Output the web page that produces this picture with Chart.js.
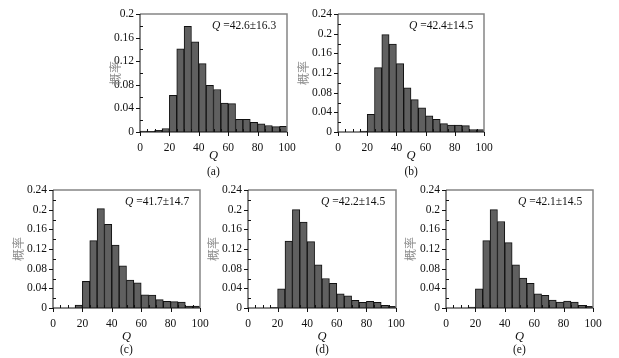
<!DOCTYPE html>
<html>
<head>
<meta charset="utf-8">
<script src="https://cdn.jsdelivr.net/npm/chart.js@4.4.0/dist/chart.umd.min.js"></script>
<style>
    body { margin: 0; background: #fff; }
    #wrap { position: relative; width: 619px; height: 358px; overflow: hidden; font-family: "Liberation Serif", "Times New Roman", serif; }
    #wrap canvas, .txt { position: absolute; }
    .txt { white-space: nowrap; color: #111; font-size: 11.5px; line-height: 1; }
    .ytitle { color: #8a8a8a; font-size: 12px; font-family: "Noto Sans CJK SC", sans-serif; transform: translate(-50%, -50%) rotate(-90deg); }
</style>
</head>
<body>
<div id="wrap"></div>
<script>
// bin centres of the 5-wide histogram bins
var binCenters = [2.5, 7.5, 12.5, 17.5, 22.5, 27.5, 32.5, 37.5, 42.5, 47.5,
                  52.5, 57.5, 62.5, 67.5, 72.5, 77.5, 82.5, 87.5, 92.5, 97.5];

var probA = [0.0017, 0.001, 0.003, 0.006, 0.062, 0.141, 0.179, 0.153, 0.116, 0.079,
             0.072, 0.049, 0.048, 0.0215, 0.0215, 0.0164, 0.014, 0.011, 0.009, 0.0096];
var probB = [0, 0, 0, 0.002, 0.036, 0.131, 0.198, 0.179, 0.139, 0.090,
             0.066, 0.049, 0.033, 0.026, 0.017, 0.0143, 0.0143, 0.013, 0.0048, 0.0048];
var probC = [0, 0, 0, 0.006, 0.054, 0.137, 0.202, 0.170, 0.128, 0.086,
             0.057, 0.051, 0.027, 0.0265, 0.017, 0.0136, 0.013, 0.0122, 0.004, 0.004];
var probD = [0, 0, 0, 0.001, 0.039, 0.136, 0.200, 0.175, 0.135, 0.088,
             0.060, 0.050, 0.0286, 0.025, 0.0156, 0.0116, 0.0136, 0.0116, 0.0054, 0.0034];
var probE = [0, 0, 0, 0.002, 0.039, 0.137, 0.200, 0.176, 0.133, 0.088,
             0.061, 0.050, 0.029, 0.026, 0.0163, 0.0122, 0.0143, 0.0122, 0.0054, 0.0034];

var statLabels = ['42.6\u00b116.3', '42.4\u00b114.5', '41.7\u00b114.7', '42.2\u00b114.5', '42.1\u00b114.5'];
var panelNames = ['(a)', '(b)', '(c)', '(d)', '(e)'];
var yMaxes = [0.2, 0.24, 0.24, 0.24, 0.24];

// plot areas in page pixels: left, top, right, bottom
var panels = [
    { data: probA, l: 140, t: 14,  r: 287, b: 132, yt: 25, qOff: 23, nOff: 40 },
    { data: probB, l: 338, t: 14,  r: 484, b: 132, yt: 35, qOff: 23, nOff: 40 },
    { data: probC, l: 53,  t: 190, r: 200, b: 308, yt: 35, qOff: 28, nOff: 42 },
    { data: probD, l: 248, t: 190, r: 396, b: 308, yt: 35, qOff: 28, nOff: 42 },
    { data: probE, l: 446, t: 190, r: 593, b: 308, yt: 36, qOff: 28, nOff: 42 }
];

// frame, axes and major/minor ticks
var framePlugin = {
    id: 'frame',
    afterDraw: function (chart) {
        var ctx = chart.ctx, a = chart.chartArea;
        var xs = chart.scales.x, ys = chart.scales.y;
        ctx.save();
        ctx.lineWidth = 1.5;
        ctx.strokeStyle = '#858585';
        ctx.beginPath();
        ctx.moveTo(a.left, a.top);
        ctx.lineTo(a.right, a.top);
        ctx.lineTo(a.right, a.bottom);
        ctx.stroke();

        ctx.lineWidth = 1;
        ctx.strokeStyle = '#111';
        ctx.beginPath();
        ctx.moveTo(a.left, a.top);
        ctx.lineTo(a.left, a.bottom);
        ctx.lineTo(a.right, a.bottom);
        for (var v = 0; v <= 100; v += 5) {
            var px = Math.round(xs.getPixelForValue(v)) + 0.5;
            ctx.moveTo(px, a.bottom);
            ctx.lineTo(px, v % 20 === 0 ? a.bottom + 4 : a.bottom - 3);
        }
        var n = Math.round(ys.max / 0.02);
        for (var k = 0; k <= n; k++) {
            var py = Math.round(ys.getPixelForValue(k * 0.02)) + 0.5;
            ctx.moveTo(a.left, py);
            ctx.lineTo(k % 2 === 0 ? a.left - 4 : a.left + 3, py);
        }
        ctx.stroke();
        ctx.restore();
    }
};

var wrap = document.getElementById('wrap');

function addText(html, cls, x, y, style) {
    var d = document.createElement('div');
    d.className = 'txt ' + (cls || '');
    d.innerHTML = html;
    d.style.left = x + 'px';
    d.style.top = y + 'px';
    if (style) d.style.cssText += style;
    wrap.appendChild(d);
    return d;
}

panels.forEach(function (p, i) {
    var canvas = document.createElement('canvas');
    canvas.width = (p.r - p.l) + 54;
    canvas.height = (p.b - p.t) + 34;
    canvas.style.left = (p.l - 40) + 'px';
    canvas.style.top = (p.t - 10) + 'px';
    wrap.appendChild(canvas);

    var points = binCenters.map(function (c, j) { return { x: c, y: p.data[j] }; });

    new Chart(canvas.getContext('2d'), {
        type: 'bar',
        data: {
            datasets: [{
                data: points,
                backgroundColor: '#606060',
                borderColor: '#111',
                borderWidth: 1,
                barPercentage: 1,
                categoryPercentage: 1
            }]
        },
        options: {
            responsive: false,
            animation: false,
            layout: { padding: { left: 8, top: 10, right: 14, bottom: 4 } },
            plugins: { legend: { display: false }, tooltip: { enabled: false } },
            scales: {
                x: {
                    type: 'linear',
                    min: 0,
                    max: 100,
                    offset: false,
                    grid: { display: false, drawTicks: false },
                    border: { display: false },
                    ticks: {
                        stepSize: 20,
                        padding: 9,
                        maxRotation: 0,
                        color: '#111',
                        font: { family: 'Liberation Serif', size: 11.5 }
                    },
                    afterFit: function (s) { s.height = 20; s.paddingLeft = 0; s.paddingRight = 0; }
                },
                y: {
                    min: 0,
                    max: yMaxes[i],
                    grid: { display: false, drawTicks: false },
                    border: { display: false },
                    ticks: {
                        stepSize: 0.04,
                        padding: 6,
                        color: '#111',
                        font: { family: 'Liberation Serif', size: 11.5 },
                        callback: function (v) { return String(Number(v.toFixed(2))); }
                    },
                    afterFit: function (s) { s.width = 32; s.paddingTop = 0; s.paddingBottom = 0; }
                }
            }
        },
        plugins: [framePlugin]
    });

    var cx = (p.l + p.r) / 2;
    // statistics annotation, right aligned inside the plot
    var st = addText('<i>Q</i> =' + statLabels[i], '', 0, p.t + 6);
    st.style.left = (p.r - 11 - st.offsetWidth) + 'px';
    // y title
    addText('概率', 'ytitle', p.l - p.yt, (p.t + p.b) / 2);
    // x title and panel name
    var q = addText('<i>Q</i>', '', 0, p.b + p.qOff - 6, 'font-size:12.5px;');
    q.style.left = (cx - q.offsetWidth / 2) + 'px';
    var nm = addText(panelNames[i], '', 0, p.b + p.nOff - 6);
    nm.style.left = (cx - nm.offsetWidth / 2) + 'px';
});
</script>
</body>
</html>
